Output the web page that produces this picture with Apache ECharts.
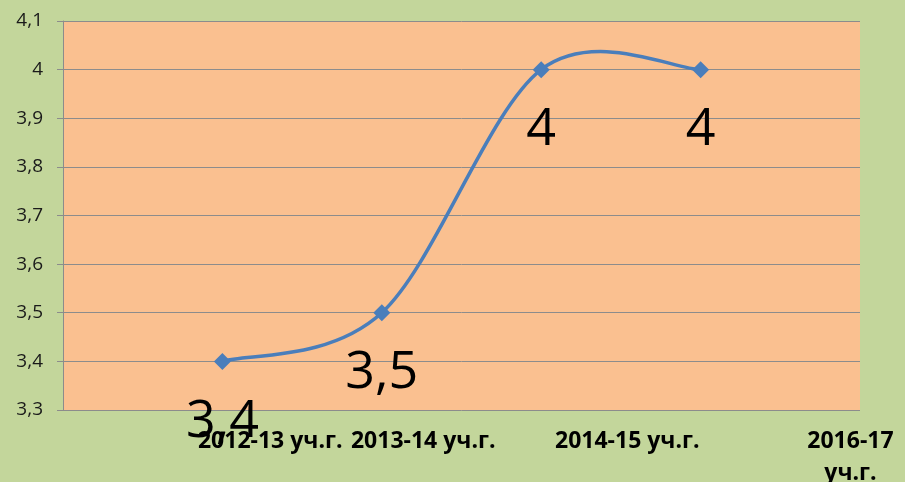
<!DOCTYPE html>
<html>
<head>
<meta charset="utf-8">
<script src="https://cdn.jsdelivr.net/npm/echarts@6/dist/echarts.min.js"></script>
<style>
  html, body { margin: 0; padding: 0; background: #c3d69b; }
  #main { width: 905px; height: 482px; }
</style>
</head>
<body>
<div id="main"></div>
<script>
// слоты категорий (первый и последний пустые, как в исходной диаграмме)
const slots = ['', '2012-13 уч.г.', '2013-14 уч.г.', '2014-15 уч.г.', '2015-16 уч.г.', ''];
// средний балл
const scores = ['-', 3.4, 3.5, 4, 4, '-'];
// подписи оси X
const xLabels = ['2012-13 уч.г.', '2013-14 уч.г.', '2014-15 уч.г.', '2016-17\nуч.г.'];
// где стоят подписи (в единицах слотов)
const xLabelAt = [1.30, 2.26, 3.54, 4.94];

const comma = v => String(+(+v).toFixed(1)).replace('.', ',');

// точки для сглаженной линии (как в Excel)
const pts = scores.map((v, i) => [i, v]).filter(d => d[1] !== '-');

const chart = echarts.init(document.getElementById('main'), null, { renderer: 'canvas' });

// сегмент кривой между точками i и i+1, контрольные точки Catmull-Rom (1/6)
function renderSegment(params, api) {
  const i = params.dataIndexInside;
  const n = params.dataInsideLength;
  if (i >= n - 1) return null;
  const p = k => {
    k = Math.max(0, Math.min(n - 1, k));
    return api.coord([api.value(0, k), api.value(1, k)]);
  };
  const p0 = p(i - 1), p1 = p(i), p2 = p(i + 1), p3 = p(i + 2);
  return {
    type: 'bezierCurve',
    shape: {
      x1: p1[0], y1: p1[1],
      x2: p2[0], y2: p2[1],
      cpx1: p1[0] + (p2[0] - p0[0]) / 6,
      cpy1: p1[1] + (p2[1] - p0[1]) / 6,
      cpx2: p2[0] - (p3[0] - p1[0]) / 6,
      cpy2: p2[1] - (p3[1] - p1[1]) / 6
    },
    style: { stroke: '#4a7ebb', lineWidth: 3.5, fill: null },
    silent: true
  };
}

const option = {
  backgroundColor: '#c3d69b',
  animation: false,
  grid: {
    left: 63, right: 45, top: 21, bottom: 72,
    outerBoundsMode: 'none',
    containLabel: false,
    show: true,
    backgroundColor: '#fac090',
    borderWidth: 0
  },
  xAxis: [{
    type: 'category',
    data: slots,
    boundaryGap: false,
    axisLine: { show: false },
    axisTick: { show: false },
    axisLabel: { show: false },
    splitLine: { show: false }
  }, {
    type: 'value',
    min: 0,
    max: 5,
    position: 'bottom',
    axisLine: { show: false },
    axisTick: { show: false },
    splitLine: { show: false },
    axisLabel: {
      customValues: xLabelAt,
      formatter: v => xLabels[xLabelAt.indexOf(v)] || '',
      fontFamily: 'Open Sans',
      fontWeight: 'bold',
      fontSize: 23,
      lineHeight: 32,
      color: '#000',
      margin: 15,
      verticalAlign: 'top'
    }
  }],
  yAxis: {
    type: 'value',
    min: 3.3,
    max: 4.1,
    interval: 0.1,
    axisLine: { show: true, lineStyle: { color: '#8c8c8c', width: 1 } },
    axisTick: { show: true, length: 6, lineStyle: { color: '#8c8c8c' } },
    splitLine: { lineStyle: { color: '#8c8c8c', width: 1 } },
    axisLabel: {
      formatter: comma,
      fontFamily: 'Open Sans',
      fontSize: 19,
      color: '#1a1a1a',
      margin: 20
    }
  },
  series: [{
    type: 'custom',
    xAxisIndex: 0,
    data: pts,
    renderItem: renderSegment,
    z: 2
  }, {
    type: 'line',
    xAxisIndex: 0,
    data: scores,
    symbol: 'diamond',
    symbolSize: 17,
    lineStyle: { width: 0, opacity: 0 },
    itemStyle: { color: '#4a7ebb' },
    z: 3,
    label: {
      show: true,
      position: 'bottom',
      distance: 26,
      formatter: p => comma(p.value),
      fontFamily: 'Open Sans',
      fontSize: 52,
      color: '#000'
    }
  }]
};

chart.setOption(option);
</script>
</body>
</html>
